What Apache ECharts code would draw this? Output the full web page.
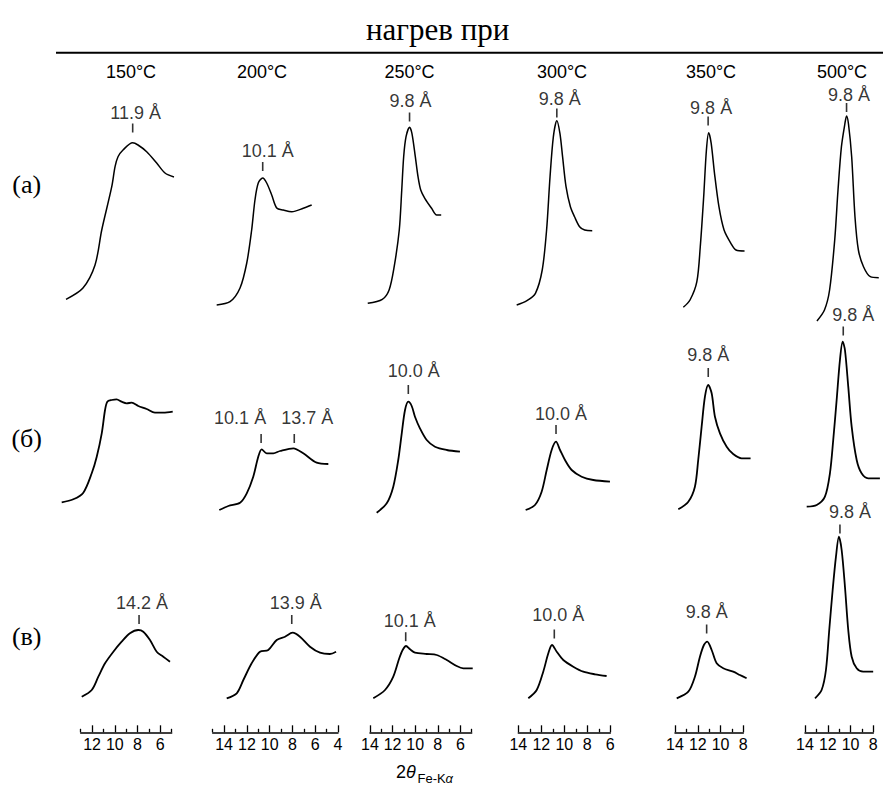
<!DOCTYPE html>
<html><head><meta charset="utf-8">
<script src="https://cdn.jsdelivr.net/npm/echarts@6/dist/echarts.min.js"></script>
<style>html,body{margin:0;padding:0;background:#fff}#c{width:883px;height:785px}</style>
</head><body><div id="c"></div>
<script>
// ---------- DATA ----------
const titleText = 'нагрев при';
const temperatures = ['150°C', '200°C', '250°C', '300°C', '350°C', '500°C'];
const rowLabels = ['(а)', '(б)', '(в)'];
// 2θ axis range per column [min, max] (axis is drawn reversed: high angles on the left)
const axisRanges = [[5, 13], [4, 15], [5, 14], [6, 14], [8, 14], [8, 14]];
const majorTicks = [[6, 8, 10, 12], [4, 6, 8, 10, 12, 14], [6, 8, 10, 12, 14], [6, 8, 10, 12, 14], [8, 10, 12, 14], [8, 10, 12, 14]];
const minorTicks = [[5, 7, 9, 11, 13], [5, 7, 9, 11, 13, 15], [5, 7, 9, 11, 13], [7, 9, 11, 13], [9, 11, 13], [9, 11, 13]];

// curves: [2θ, intensity (arb. units)]
// row (а)
const a150 = [[14.29,30.7],[12.80,42],[11.74,65],[11.15,100],[10.27,143.3],[9.98,163.3],[9.72,173.3],[9.28,180],[8.43,187.3],[7.96,185],[7.20,178.3],[6.32,167],[5.59,157],[4.80,153]];
const a200 = [[14.65,25],[13.48,28.3],[12.60,42],[12.01,67],[11.58,100],[11.29,130],[11.0,147],[10.61,152],[10.26,147],[9.82,135],[9.38,122],[8.80,120],[8.06,118.3],[7.05,121.7],[6.31,125]];
const a250 = [[14.20,26.7],[12.91,30.7],[12.31,40],[11.86,63.3],[11.41,100],[11.19,140],[11.02,173.3],[10.81,193.3],[10.50,202.7],[10.29,196.7],[9.99,173.3],[9.75,153.3],[9.51,140],[9.15,131.7],[8.55,121.7],[8.10,115],[7.70,115]];
const a300 = [[14.14,25],[13.25,29.3],[12.51,36.7],[11.92,60],[11.54,100],[11.24,153.3],[10.95,193.3],[10.65,209.3],[10.38,196.7],[10.15,173.3],[9.85,143.3],[9.47,123.3],[9.11,113.3],[8.67,103.3],[8.23,100],[7.57,99.3]];
const a350 = [[13.27,22.7],[12.68,30],[12.08,48.3],[11.78,83.3],[11.48,133.3],[11.24,180],[11.04,197.3],[10.82,186.7],[10.53,156.7],[10.14,123.3],[9.69,100],[9.09,86.7],[8.64,80],[7.89,79]];
const a500 = [[12.95,9],[12.29,20],[11.84,40],[11.39,90],[11.10,140],[10.80,183.3],[10.50,206],[10.35,214],[10.18,206],[9.90,173.3],[9.61,113.3],[9.31,80],[8.86,63.3],[8.26,53.3],[7.52,52.3]];
// row (б)
const b150 = [[14.67,17.7],[13.65,20.7],[12.77,27.3],[12.03,46.7],[11.59,63.3],[11.15,86.7],[10.86,110],[10.66,118.3],[10.27,120],[9.84,120.7],[9.40,118.3],[8.96,116.7],[8.52,117.3],[7.94,114],[7.20,111],[6.47,107.3],[5.74,107.3],[4.91,108.3]];
const b200 = [[14.42,10],[13.63,14],[12.60,17.3],[12.01,26.7],[11.44,43.3],[11.0,63.3],[10.70,70.7],[10.26,66.7],[9.68,66.7],[9.09,69],[7.92,71.7],[7.05,66.7],[5.87,57.3],[4.85,56]];
const b250 = [[13.41,7.3],[12.52,16.7],[11.94,33.3],[11.50,60],[11.19,86.7],[10.90,110],[10.61,118.3],[10.31,114],[10.02,103.3],[9.58,91.7],[8.98,80],[8.25,73.3],[7.21,70],[6.04,68.3]];
const b300 = [[13.36,10],[12.55,15],[11.97,28.3],[11.53,50],[11.10,70],[10.72,78.3],[10.37,70],[9.94,60],[9.36,50],[8.49,43.3],[7.48,40],[6.03,38.3]];
const b350 = [[13.71,10.7],[12.83,18.3],[12.25,33.3],[11.96,60],[11.66,93.3],[11.37,123.3],[11.08,135],[10.78,126.7],[10.49,103.3],[10.05,86.7],[9.46,73.3],[8.89,66],[8.15,61.7],[7.36,61.7]];
const b500 = [[13.85,13.3],[12.97,15],[12.25,23.3],[11.81,46.7],[11.52,80],[11.22,120],[10.93,160],[10.69,178.3],[10.49,170],[10.20,133.3],[9.90,93.3],[9.46,60],[9.03,46.7],[8.45,41.7],[7.42,41.7]];
// row (в)
const c150 = [[12.91,13.3],[12.03,20],[11.45,33.3],[10.86,46.7],[10.13,58.3],[9.40,68.3],[8.67,76.7],[7.94,80],[7.50,78.3],[6.91,70],[6.32,58.3],[5.74,53.3],[5.15,48.3]];
const c200 = [[13.77,11.7],[12.89,16.7],[12.31,30],[11.58,46.7],[10.85,58.3],[10.12,60],[9.38,70],[8.65,73.3],[7.98,77.3],[7.34,73.3],[6.46,63.3],[5.58,57.3],[4.71,56],[4.17,58.3]];
const c250 = [[13.71,11.7],[12.67,20],[11.94,33.3],[11.41,51.7],[11.11,60],[10.81,64],[10.46,60.7],[10.02,57.3],[8.98,56],[8.10,55],[7.21,50],[6.33,44],[5.74,41.7],[4.91,41.7]];
const c300 = [[13.13,11.7],[12.40,20],[11.83,38.3],[11.39,56.7],[11.07,65],[10.66,58.3],[10.09,50],[9.22,43.3],[8.35,38.3],[7.33,35.7],[6.32,34]];
const c350 = [[13.85,11.7],[12.83,18.3],[12.25,33.3],[11.81,53.3],[11.46,65],[11.17,68.3],[10.78,60],[10.34,46.7],[9.76,41.7],[8.89,38.3],[8.30,35],[7.71,31.7]];
const c500 = [[13.12,11.7],[12.54,20],[12.16,40],[11.87,80],[11.57,120],[11.28,153.3],[11.02,173.3],[10.78,160],[10.49,123.3],[10.20,80],[9.90,53.3],[9.46,41.7],[8.89,38.3],[8.01,38.3]];

const curves = [
  [a150, a200, a250, a300, a350, a500],
  [b150, b200, b250, b300, b350, b500],
  [c150, c200, c250, c300, c350, c500]
];

// peak markers: [row, column, 2θ, marker intensity, text]
const peaks = [
  [0, 0, 8.43, 202, '11.9 Å'],
  [0, 1, 10.61, 163.5, '10.1 Å'],
  [0, 2, 10.50, 213, '9.8 Å'],
  [0, 3, 10.65, 217, '9.8 Å'],
  [0, 4, 11.09, 209, '9.8 Å'],
  [0, 5, 10.35, 222.5, '9.8 Å'],
  [1, 1, 10.75, 81.5, '10.1 Å'],
  [1, 1, 7.84, 81.5, '13.7 Å'],
  [1, 2, 10.61, 130.5, '10.0 Å'],
  [1, 3, 10.72, 90.5, '10.0 Å'],
  [1, 4, 11.08, 147.5, '9.8 Å'],
  [1, 5, 10.64, 189, '9.8 Å'],
  [2, 0, 7.87, 90.5, '14.2 Å'],
  [2, 1, 8.06, 90.5, '13.9 Å'],
  [2, 2, 10.84, 73.3, '10.1 Å'],
  [2, 3, 10.87, 76, '10.0 Å'],
  [2, 4, 11.22, 81, '9.8 Å'],
  [2, 5, 10.93, 181, '9.8 Å']
];

// ---------- LAYOUT / STYLE ----------
const W = 883;
const colLeft = [80.7, 212.7, 370, 518.3, 675, 805];
const colRight = [171.7, 338, 471.7, 610.3, 743.3, 873.3];
const rowBase = [330, 520, 710];
const cellH = 240;
const EXT = 3; // extra units on each side of the hidden cell axes so curves are never cut
const headerX = [131, 262, 409.5, 562, 711, 842];
const rowLabelY = [184, 438, 636];
const peakLabelOffsets = [
  [3, -15.5], [5, -15.5], [1, -16], [3, -14], [3, -13], [2.5, -12.5],
  [-21, -21], [13, -21], [5.5, -19], [5, -16], [0, -17.5], [10, -16],
  [3, -17], [4, -17], [4, -16], [4, -19], [0, -17], [10, -17]
];
const TICK_W = 1.6, TICK_H = 9;
const SANS = '"Liberation Sans", Arial, Helvetica, sans-serif';
const SERIF = '"Liberation Serif", "Times New Roman", serif';

const grid = [], xAxis = [], yAxis = [], series = [];

// bottom 2θ axes
for (let c = 0; c < 6; c++) {
  const g = grid.length;
  grid.push({ left: colLeft[c], width: colRight[c] - colLeft[c], top: 700, height: 32.3 });
  xAxis.push({
    gridIndex: g, type: 'value', min: axisRanges[c][0], max: axisRanges[c][1], inverse: true, position: 'bottom',
    axisLine: { show: true, lineStyle: { color: '#000', width: 1.5 } },
    axisTick: { show: true, inside: true, length: 7, customValues: majorTicks[c], lineStyle: { color: '#000', width: 1.3 } },
    axisLabel: { show: true, customValues: majorTicks[c], margin: 4, color: '#000', fontSize: 16, fontFamily: SANS },
    splitLine: { show: false }
  });
  xAxis.push({
    gridIndex: g, type: 'value', min: axisRanges[c][0], max: axisRanges[c][1], inverse: true, position: 'bottom',
    axisLine: { show: false },
    axisTick: { show: true, inside: true, length: 3.5, customValues: minorTicks[c], lineStyle: { color: '#000', width: 1.3 } },
    axisLabel: { show: false }, splitLine: { show: false }
  });
  yAxis.push({ gridIndex: g, show: false, min: 0, max: 1 });
}

// cell grids (hidden axes share the pixel scale of the column's 2θ axis)
const cellAxis = {};
for (let r = 0; r < 3; r++) {
  for (let c = 0; c < 6; c++) {
    const g = grid.length;
    const ppu = (colRight[c] - colLeft[c]) / (axisRanges[c][1] - axisRanges[c][0]);
    const extL = Math.min(EXT, Math.floor(colLeft[c] / ppu * 10) / 10);
    const extR = Math.min(EXT, Math.floor((W - 1 - colRight[c]) / ppu * 10) / 10);
    grid.push({
      left: colLeft[c] - extL * ppu, width: (colRight[c] - colLeft[c]) + (extL + extR) * ppu,
      top: rowBase[r] - cellH, height: cellH
    });
    const xi = xAxis.length, yi = yAxis.length;
    xAxis.push({ gridIndex: g, type: 'value', show: false, min: axisRanges[c][0] - extR, max: axisRanges[c][1] + extL, inverse: true });
    yAxis.push({ gridIndex: g, type: 'value', show: false, min: 0, max: cellH });
    cellAxis[r + '_' + c] = [xi, yi];
    series.push({
      type: 'line', xAxisIndex: xi, yAxisIndex: yi, data: curves[r][c],
      showSymbol: false, symbol: 'none', clip: false, smooth: 0.3,
      lineStyle: { color: '#000', width: r === 0 ? 1.5 : 1.8 }, silent: true, z: 3
    });
  }
}

// peak markers and labels
peaks.forEach((p, i) => {
  const [xi, yi] = cellAxis[p[0] + '_' + p[1]];
  const off = peakLabelOffsets[i];
  series.push({
    type: 'scatter', xAxisIndex: xi, yAxisIndex: yi, clip: false, silent: true,
    symbol: 'rect', symbolSize: [TICK_W, TICK_H], itemStyle: { color: '#000' },
    data: [{ value: [p[2], p[3]], label: { formatter: p[4] } }],
    label: {
      show: true, position: [TICK_W / 2 + off[0], TICK_H / 2 + off[1]], align: 'center', verticalAlign: 'middle',
      color: '#000', fontSize: 18, fontFamily: SANS
    },
    labelLayout: { hideOverlap: false }
  });
});

function txt(x, y, text, font, align) {
  return {
    type: 'text', x: x, y: y, silent: true,
    style: { text: text, font: font, fill: '#000', textAlign: align || 'center', align: align || 'center', textVerticalAlign: 'middle', verticalAlign: 'middle' }
  };
}

const graphic = [];
graphic.push(txt(437.7, 29, titleText, '31px ' + SERIF));
graphic.push({ type: 'line', silent: true, shape: { x1: 56, y1: 52.7, x2: 883, y2: 52.7 }, style: { stroke: '#000', lineWidth: 2 } });
temperatures.forEach((t, i) => graphic.push(txt(headerX[i], 71.5, t, '18px ' + SANS)));
rowLabels.forEach((t, i) => graphic.push(txt(26.7, rowLabelY[i], t, '26px ' + SERIF)));
// axis title 2θ_Fe-Kα
graphic.push(txt(396, 771.7, '2', '18px ' + SANS, 'left'));
graphic.push(txt(406, 771.7, 'θ', 'italic 18px ' + SANS, 'left'));
graphic.push(txt(417.5, 778.1, 'Fe-K', '13px ' + SANS, 'left'));
graphic.push(txt(445.5, 778.1, 'α', 'italic 13px ' + SANS, 'left'));

const chart = echarts.init(document.getElementById('c'), null, { renderer: 'svg' });
chart.setOption({
  animation: false,
  backgroundColor: '#fff',
  grid: grid, xAxis: xAxis, yAxis: yAxis, series: series, graphic: graphic
});
</script></body></html>
